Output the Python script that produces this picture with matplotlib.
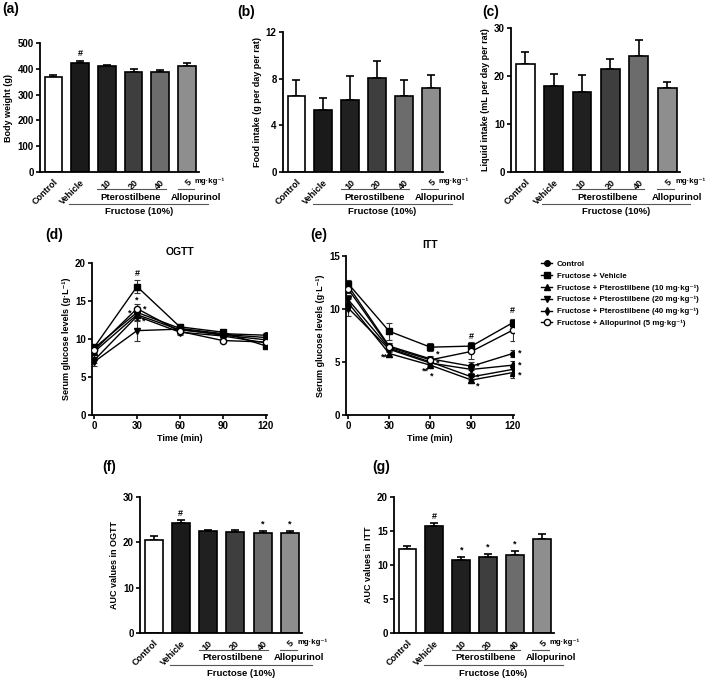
import numpy as np
import matplotlib
matplotlib.use("Agg")
import matplotlib.pyplot as plt
from matplotlib.transforms import blended_transform_factory, ScaledTranslation

plt.rcParams["font.family"] = ["Liberation Sans", "DejaVu Sans"]
plt.rcParams["font.weight"] = "bold"
plt.rcParams["axes.labelweight"] = "bold"
plt.rcParams["axes.titleweight"] = "bold"

# ── Bar chart data ─────────────────────────────────────────────────────────
GROUPS = ["Control", "Vehicle", "10", "20", "40", "5"]
BAR_COLORS = ["#ffffff", "#1a1a1a", "#202020", "#3e3e3e", "#6c6c6c", "#8e8e8e"]

BODY_WEIGHT = [368, 422, 410, 388, 388, 410]
BODY_WEIGHT_SEM = [8, 10, 6, 10, 6, 13]
BODY_WEIGHT_MARKS = ["", "#", "", "", "", ""]

FOOD = [6.5, 5.3, 6.2, 8.1, 6.5, 7.2]
FOOD_SEM = [1.35, 1.05, 2.0, 1.4, 1.35, 1.1]

LIQUID = [22.5, 18.0, 16.6, 21.5, 24.2, 17.6]
LIQUID_SEM = [2.5, 2.4, 3.7, 2.0, 3.2, 1.1]

AUC_OGTT = [20.5, 24.2, 22.5, 22.3, 22.1, 22.0]
AUC_OGTT_SEM = [0.9, 0.7, 0.3, 0.4, 0.4, 0.6]
AUC_OGTT_MARKS = ["", "#", "", "", "*", "*"]

AUC_ITT = [12.4, 15.7, 10.7, 11.2, 11.4, 13.8]
AUC_ITT_SEM = [0.35, 0.5, 0.55, 0.45, 0.7, 0.8]
AUC_ITT_MARKS = ["", "#", "*", "*", "*", ""]

# ── Time course data ───────────────────────────────────────────────────────
TIME = [0, 30, 60, 90, 120]
SERIES_LABELS = [
    "Control",
    "Fructose + Vehicle",
    "Fructose + Pterostilbene (10 mg·kg⁻¹)",
    "Fructose + Pterostilbene (20 mg·kg⁻¹)",
    "Fructose + Pterostilbene (40 mg·kg⁻¹)",
    "Fructose + Allopurinol (5 mg·kg⁻¹)",
]

OGTT_CONTROL = [8.8, 13.5, 11.4, 10.7, 10.5]
OGTT_VEHICLE = [8.9, 16.9, 11.6, 10.9, 9.1]
OGTT_P10 = [8.3, 13.2, 11.2, 10.6, 10.2]
OGTT_P20 = [7.0, 11.1, 11.3, 10.5, 9.9]
OGTT_P40 = [7.2, 13.0, 10.9, 10.4, 9.5]
OGTT_ALLO = [8.5, 14.0, 11.0, 9.8, 9.6]
OGTT_SEM = [
    [0.3, 0.4, 0.4, 0.3, 0.3],
    [0.3, 0.8, 0.4, 0.3, 0.3],
    [0.3, 0.5, 0.3, 0.3, 0.3],
    [0.5, 1.3, 0.4, 0.3, 0.3],
    [0.4, 0.5, 0.4, 0.3, 0.4],
    [0.3, 0.6, 0.3, 0.2, 0.3],
]

ITT_CONTROL = [12.2, 6.5, 5.3, 4.6, 5.8]
ITT_VEHICLE = [12.4, 7.9, 6.4, 6.5, 8.7]
ITT_P10 = [10.6, 5.8, 4.7, 3.3, 4.0]
ITT_P20 = [10.9, 6.3, 5.0, 3.6, 4.3]
ITT_P40 = [10.1, 6.2, 4.9, 4.3, 4.7]
ITT_ALLO = [11.9, 6.4, 5.2, 6.0, 8.0]
ITT_SEM = [
    [0.3, 0.3, 0.3, 0.4, 0.3],
    [0.3, 0.8, 0.4, 0.4, 0.4],
    [0.4, 0.3, 0.3, 0.3, 0.5],
    [0.4, 0.3, 0.3, 0.3, 0.4],
    [0.8, 0.3, 0.3, 0.3, 0.4],
    [0.4, 0.4, 0.3, 0.7, 1.0],
]

# significance marks: (series index, time index, symbol, dx px, dy px)
OGTT_MARKS = [
    (1, 1, "#", 0, 13),
    (5, 1, "*", 0, 9),
    (5, 1, "*", 8, 0),
    (4, 1, "*", -7, 3),
    (2, 1, "*", 7, -6),
]
ITT_MARKS = [
    (2, 1, "**", -5, -4),
    (0, 2, "*", 7, 5),
    (5, 2, "*", 7, -3),
    (2, 2, "**", -5, -6),
    (2, 2, "*", 1, -11),
    (1, 3, "#", 0, 10),
    (0, 3, "*", 6, 0),
    (3, 3, "*", 6, 0),
    (2, 3, "*", 6, -6),
    (1, 4, "#", 0, 12),
    (0, 4, "*", 7, 0),
    (4, 4, "*", 7, 0),
    (2, 4, "*", 7, -2),
]

MARKERS = [
    dict(marker="o", mfc="black", ms=4),
    dict(marker="s", mfc="black", ms=4),
    dict(marker="^", mfc="black", ms=4.5),
    dict(marker="v", mfc="black", ms=4.5),
    dict(marker="d", mfc="black", ms=4),
    dict(marker="o", mfc="white", ms=4.5),
]

W, H = 709, 680


def px_axes(left, top, right, bottom):
    return [left / W, 1 - bottom / H, (right - left) / W, (bottom - top) / H]


def style_axes(ax):
    ax.spines["top"].set_visible(False)
    ax.spines["right"].set_visible(False)
    for s in ("left", "bottom"):
        ax.spines[s].set_linewidth(1.3)
    ax.tick_params(axis="both", direction="out", length=3, width=1.2, labelsize=7, pad=1.5)


def below(ax, fig, px):
    base = blended_transform_factory(ax.transData, ax.transAxes)
    return base + ScaledTranslation(0, -px / fig.dpi, fig.dpi_scale_trans)


def bar_panel(fig, ax, values, sems, ylabel, yticks, marks=None):
    style_axes(ax)
    x = np.arange(len(GROUPS))
    ax.bar(x, values, width=0.66, color=BAR_COLORS, edgecolor="black",
           linewidth=1.2, zorder=2)
    ax.errorbar(x, values, yerr=[np.zeros(len(x)), sems], fmt="none",
                ecolor="black", elinewidth=1.2, capsize=3, capthick=1.2, zorder=1)
    if marks:
        for xi, v, s, m in zip(x, values, sems, marks):
            if m:
                ax.annotate(m, (xi, v + s), xytext=(0, 1.5), textcoords="offset points",
                            ha="center", va="bottom", fontsize=6.5)
    ax.set_xlim(-0.5, 5.45)
    ax.set_ylim(0, yticks[-1])
    ax.set_yticks(yticks)
    ax.set_xticks(x)
    ax.set_xticklabels(GROUPS, rotation=45, ha="right", va="top",
                       rotation_mode="anchor", fontsize=6.5)
    ax.tick_params(axis="x", length=0, pad=4)
    ax.set_ylabel(ylabel, fontsize=6.5, labelpad=3)

    # group annotations under the categories
    ax.text(5.28, 0, "mg·kg⁻¹", transform=below(ax, fig, 9), ha="left",
            va="center", fontsize=5.6)
    ax.plot([1.65, 4.2], [0, 0], transform=below(ax, fig, 17), color="#555555",
            lw=0.8, clip_on=False)
    ax.plot([4.65, 5.25], [0, 0], transform=below(ax, fig, 17), color="#555555",
            lw=0.8, clip_on=False)
    ax.plot([0.6, 5.8], [0, 0], transform=below(ax, fig, 32), color="#555555",
            lw=0.8, clip_on=False)
    ax.text(2.9, 0, "Pterostilbene", transform=below(ax, fig, 25), ha="center",
            va="center", fontsize=6.8)
    ax.text(5.35, 0, "Allopurinol", transform=below(ax, fig, 25), ha="center",
            va="center", fontsize=6.8)
    ax.text(3.2, 0, "Fructose (10%)", transform=below(ax, fig, 40), ha="center",
            va="center", fontsize=6.8)


def line_panel(ax, series, sems, marks, title, yticks):
    style_axes(ax)
    handles = []
    for vals, err, mk, lab in zip(series, sems, MARKERS, SERIES_LABELS):
        ax.errorbar(TIME, vals, yerr=err, fmt="none", ecolor="#333333",
                    elinewidth=0.8, capsize=2, capthick=0.8, zorder=2)
        (h,) = ax.plot(TIME, vals, color="black", lw=1.0, mec="black", mew=1.0,
                       label=lab, zorder=3, **mk)
        handles.append(h)
    for si, ti, sym, dx, dy in marks:
        ax.annotate(sym, (TIME[ti], series[si][ti]), xytext=(dx, dy),
                    textcoords="offset pixels", ha="center", va="center", fontsize=6.5)
    ax.set_xlim(-1.5, 121)
    ax.set_ylim(0, yticks[-1])
    ax.set_yticks(yticks)
    ax.set_xticks(TIME)
    ax.set_xlabel("Time (min)", fontsize=6.5, labelpad=2)
    ax.set_ylabel("Serum glucose levels (g·L⁻¹)", fontsize=6.5, labelpad=3)
    ax.set_title(title, fontsize=7.5, pad=6)
    return handles


fig = plt.figure(figsize=(W / 100, H / 100), dpi=100)

ax_a = fig.add_axes(px_axes(40, 43, 199, 172))
bar_panel(fig, ax_a, BODY_WEIGHT, BODY_WEIGHT_SEM, "Body weight (g)",
          [0, 100, 200, 300, 400, 500], BODY_WEIGHT_MARKS)

ax_b = fig.add_axes(px_axes(283, 32, 443, 172))
bar_panel(fig, ax_b, FOOD, FOOD_SEM, "Food intake (g per day per rat)", [0, 4, 8, 12])

ax_c = fig.add_axes(px_axes(511, 28, 680, 172))
bar_panel(fig, ax_c, LIQUID, LIQUID_SEM, "Liquid intake (mL per day per rat)",
          [0, 10, 20, 30])

ax_d = fig.add_axes(px_axes(92, 263, 267, 415))
line_panel(ax_d, [OGTT_CONTROL, OGTT_VEHICLE, OGTT_P10, OGTT_P20, OGTT_P40, OGTT_ALLO],
           OGTT_SEM, OGTT_MARKS, "OGTT", [0, 5, 10, 15, 20])

ax_e = fig.add_axes(px_axes(346, 256, 514, 415))
handles = line_panel(ax_e, [ITT_CONTROL, ITT_VEHICLE, ITT_P10, ITT_P20, ITT_P40, ITT_ALLO],
                     ITT_SEM, ITT_MARKS, "ITT", [0, 5, 10, 15])

fig.legend(handles, SERIES_LABELS, loc="upper left",
           bbox_to_anchor=(538 / W, 1 - 257 / H), frameon=False, fontsize=5.7,
           handlelength=1.4, handletextpad=0.6, labelspacing=0.55, borderaxespad=0)

ax_f = fig.add_axes(px_axes(140, 497, 302, 633))
bar_panel(fig, ax_f, AUC_OGTT, AUC_OGTT_SEM, "AUC values in OGTT", [0, 10, 20, 30],
          AUC_OGTT_MARKS)

ax_g = fig.add_axes(px_axes(394, 497, 554, 633))
bar_panel(fig, ax_g, AUC_ITT, AUC_ITT_SEM, "AUC values in ITT", [0, 5, 10, 15, 20],
          AUC_ITT_MARKS)

for lab, (px, py) in zip(["(a)", "(b)", "(c)", "(d)", "(e)", "(f)", "(g)"],
                         [(2, 9), (237, 12), (482, 12), (45, 235), (310, 235),
                          (102, 467), (372, 467)]):
    fig.text(px / W, 1 - py / H, lab, ha="left", va="center", fontsize=10)

fig.savefig("out.png", dpi=100)
